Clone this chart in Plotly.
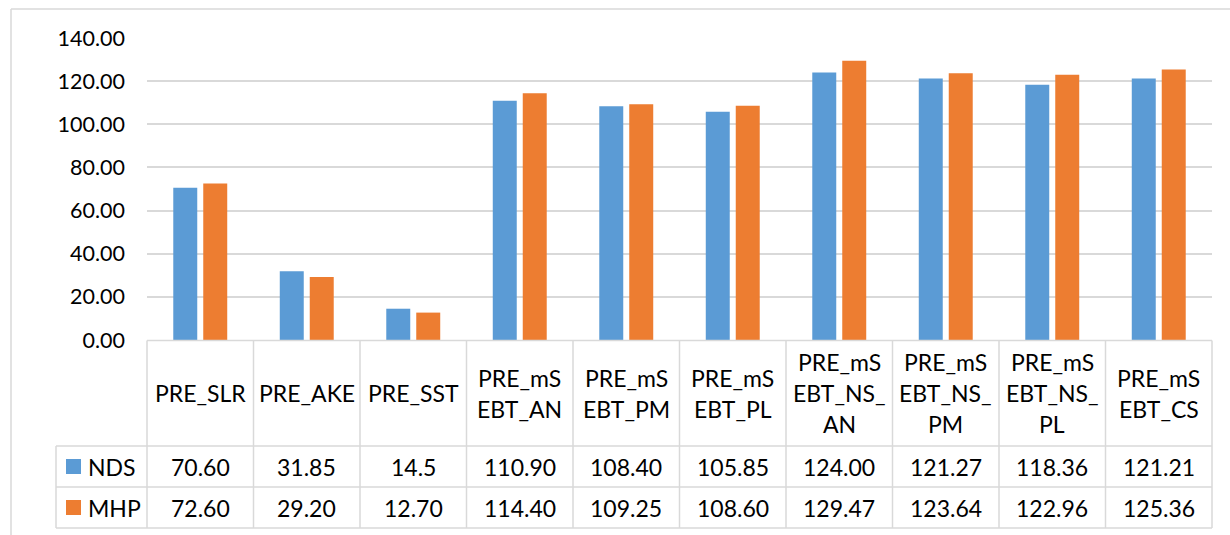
import plotly.graph_objects as go

# Category headers as shown in the data table (one entry per wrapped line)
header_lines = [
    ["PRE_SLR"],
    ["PRE_AKE"],
    ["PRE_SST"],
    ["PRE_mS", "EBT_AN"],
    ["PRE_mS", "EBT_PM"],
    ["PRE_mS", "EBT_PL"],
    ["PRE_mS", "EBT_NS_", "AN"],
    ["PRE_mS", "EBT_NS_", "PM"],
    ["PRE_mS", "EBT_NS_", "PL"],
    ["PRE_mS", "EBT_CS"],
]
categories = ["".join(h) for h in header_lines]

series_names = ["NDS", "MHP"]
nds_text = ["70.60", "31.85", "14.5", "110.90", "108.40", "105.85",
            "124.00", "121.27", "118.36", "121.21"]
mhp_text = ["72.60", "29.20", "12.70", "114.40", "109.25", "108.60",
            "129.47", "123.64", "122.96", "125.36"]
nds = [float(s) for s in nds_text]
mhp = [float(s) for s in mhp_text]

y_ticks = [0, 20, 40, 60, 80, 100, 120, 140]

BLUE = "#5B9BD5"
ORANGE = "#ED7D31"
GRID = "#D9D9D9"
FONT = "Lato"
AXIS_FS = 21.5
TABLE_FS = 23

W, H = 1230, 535
PL, PR = 147, 1212          # plot area left/right (px)
PT, PB = 38, 340            # plot area top/bottom (px)


def px_x(px):
    return (px - PL) / (PR - PL)


def px_y(py):
    return (PB - py) / (PB - PT)


fig = go.Figure()
fig.add_trace(go.Bar(x=categories, y=nds, name=series_names[0],
                     marker=dict(color=BLUE, line=dict(width=0))))
fig.add_trace(go.Bar(x=categories, y=mhp, name=series_names[1],
                     marker=dict(color=ORANGE, line=dict(width=0))))

shapes = []
line = dict(color=GRID, width=1.5)

# outer chart frame (left and top edges)
shapes.append(dict(type="line", xref="paper", yref="paper",
                   x0=px_x(11), x1=px_x(11), y0=px_y(9), y1=px_y(536), line=line))
shapes.append(dict(type="line", xref="paper", yref="paper",
                   x0=px_x(11), x1=px_x(1231), y0=px_y(9), y1=px_y(9), line=line))

# data table grid
row_header_top, row_nds_top, row_mhp_top, row_bottom = 340.5, 446, 487, 528
table_left = 56
shapes.append(dict(type="line", xref="paper", yref="paper",
                   x0=0, x1=1, y0=px_y(row_header_top), y1=px_y(row_header_top), line=line))
for yy in [row_nds_top, row_mhp_top, row_bottom]:
    shapes.append(dict(type="line", xref="paper", yref="paper",
                       x0=px_x(table_left), x1=1, y0=px_y(yy), y1=px_y(yy), line=line))
for i in range(len(categories) + 1):
    xx = i / len(categories)
    shapes.append(dict(type="line", xref="paper", yref="paper",
                       x0=xx, x1=xx, y0=px_y(row_header_top), y1=px_y(row_bottom), line=line))
shapes.append(dict(type="line", xref="paper", yref="paper",
                   x0=px_x(table_left), x1=px_x(table_left),
                   y0=px_y(row_nds_top), y1=px_y(row_bottom), line=line))

# legend keys inside the table
for yc, col in [((row_nds_top + row_mhp_top) / 2, BLUE), ((row_mhp_top + row_bottom) / 2, ORANGE)]:
    shapes.append(dict(type="rect", xref="paper", yref="paper",
                       x0=px_x(66), x1=px_x(81), y0=px_y(yc - 7.5), y1=px_y(yc + 7.5),
                       fillcolor=col, line=dict(width=0)))

annotations = []
txt_font = dict(family=FONT, size=TABLE_FS, color="#000000")
header_mid = (row_header_top + row_nds_top) / 2
line_gap = 31
for i, lines in enumerate(header_lines):
    n = len(lines)
    for k, t in enumerate(lines):
        yy = header_mid + (k - (n - 1) / 2) * line_gap
        annotations.append(dict(x=(i + 0.5) / len(categories), y=px_y(yy), xref="paper", yref="paper",
                                text=t, showarrow=False, font=txt_font,
                                xanchor="center", yanchor="middle"))
for row_vals, top, bot in [(nds_text, row_nds_top, row_mhp_top), (mhp_text, row_mhp_top, row_bottom)]:
    for i, t in enumerate(row_vals):
        annotations.append(dict(x=(i + 0.5) / len(categories), y=px_y((top + bot) / 2),
                                xref="paper", yref="paper", text=t, showarrow=False,
                                font=txt_font, xanchor="center", yanchor="middle"))
for name, top, bot in [(series_names[0], row_nds_top, row_mhp_top), (series_names[1], row_mhp_top, row_bottom)]:
    annotations.append(dict(x=px_x(86), y=px_y((top + bot) / 2), xref="paper", yref="paper",
                            text=name, showarrow=False, font=txt_font,
                            xanchor="left", yanchor="middle"))

fig.update_layout(
    width=W, height=H, autosize=False,
    margin=dict(l=PL, r=W - PR, t=PT, b=H - PB, pad=0),
    paper_bgcolor="white", plot_bgcolor="white",
    barmode="group", bargap=0.437, bargroupgap=0.2,
    showlegend=False,
    font=dict(family=FONT, size=AXIS_FS, color="#000000"),
    xaxis=dict(showticklabels=False, showgrid=False, zeroline=False,
               showline=False, ticks="", range=[-0.5, len(categories) - 0.5]),
    yaxis=dict(range=[0, 140], tickvals=y_ticks, tickformat=".2f",
               showgrid=True, gridcolor=GRID, gridwidth=1.5, zeroline=False,
               showline=False, ticks="", ticklabelstandoff=21,
               tickfont=dict(family=FONT, size=AXIS_FS, color="#000000")),
    shapes=shapes,
    annotations=annotations,
)

fig.write_html("out.html")
